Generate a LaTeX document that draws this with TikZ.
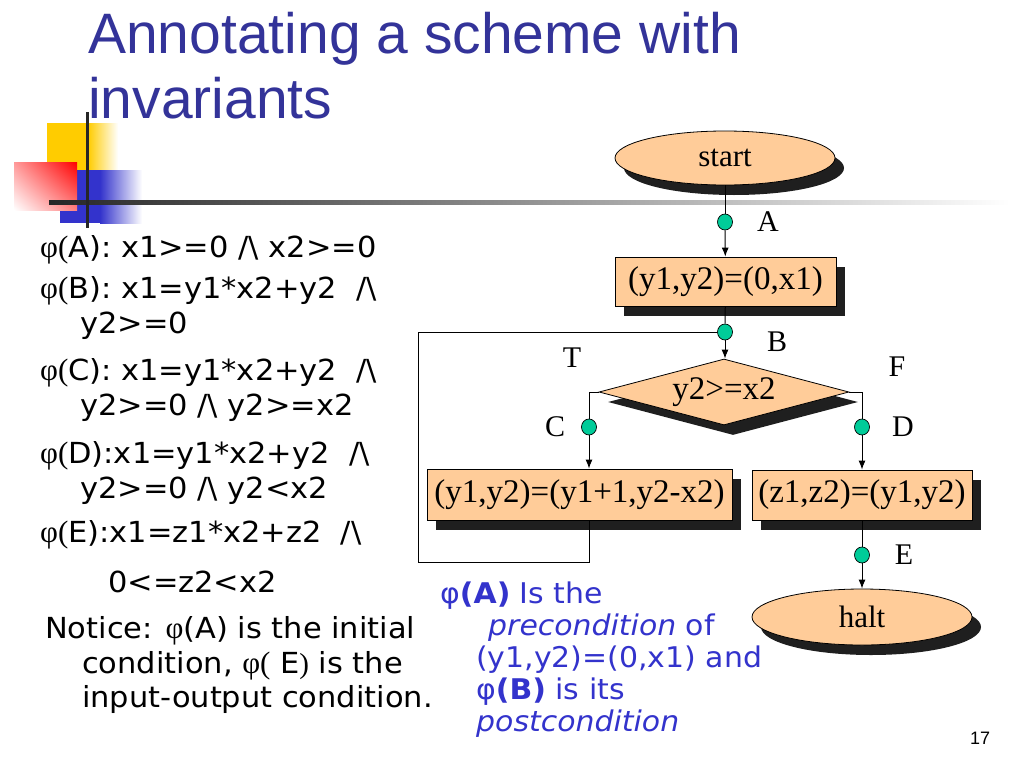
\documentclass[tikz,border=0pt]{standalone}
\usepackage{fontspec}
\setmainfont[FakeStretch=1.05]{DejaVu Sans}
\newfontfamily\titlefont{Liberation Sans}
\newfontfamily\tnr{Liberation Serif}
\usetikzlibrary{arrows.meta,shapes.geometric,shadows,shadings}
\definecolor{titleblue}{RGB}{51,51,153}
\definecolor{textblue}{RGB}{51,51,204}
\definecolor{peach}{RGB}{255,204,153}
\definecolor{mint}{RGB}{0,204,153}
\definecolor{logoyellow}{RGB}{255,204,0}
\definecolor{logoblue}{RGB}{51,51,204}
\newcommand\phic{{\tnr\fontsize{31}{32}\selectfont φ(}}
\newcommand\phis{{\tnr\fontsize{31}{32}\selectfont φ}}
\newcommand\bsl{/\textbackslash}
\tikzset{
  lt/.style={anchor=base west, inner sep=0pt, font=\fontsize{29}{32}\selectfont},
  bt/.style={anchor=base west, inner sep=0pt, text=textblue, font=\fontsize{28.5}{32}\selectfont},
  shad/.style={drop shadow={shadow xshift=9pt, shadow yshift=-10pt, fill=black!88, opacity=1}},
  fbox/.style={rectangle, draw, fill=peach, line width=0.8pt, inner sep=0pt, shad,
    font=\tnr\fontsize{33}{36}\selectfont},
  oval/.style={ellipse, draw, fill=peach, line width=0.8pt, inner sep=0pt, shad,
    minimum width=220pt, minimum height=54pt, font=\tnr\fontsize{31}{34}\selectfont},
  dia/.style={diamond, aspect=3.8, draw, fill=peach, line width=0.8pt, inner sep=0pt, shad,
    minimum width=250pt, minimum height=66pt, font=\tnr\fontsize{33}{36}\selectfont},
  dot/.style={ellipse, draw, fill=mint, line width=0.7pt, inner sep=0pt,
    minimum width=15pt, minimum height=16pt},
  lab/.style={inner sep=0pt, font=\tnr\fontsize{30}{32}\selectfont},
  conn/.style={line width=1pt, draw=black},
  arr/.style={-{Latex[length=9pt,width=7pt]}}
}
\begin{document}
\begin{tikzpicture}[x=1pt,y=-1pt]
\useasboundingbox (0,0) rectangle (1024,768);
\fill[white] (0,0) rectangle (1024,768);
% logo
\fill[logoyellow] (47,123) rectangle (88,172);
\shade[left color=logoyellow, right color=white] (88,123) rectangle (118,172);
\fill[logoblue] (60,170) rectangle (100,223);
\shade[left color=logoblue, right color=white] (100,170) rectangle (142,223);
\shade[upper right=red, upper left=red!40!white, lower right=red!50!white, lower left=white] (14,162) rectangle (77,210);
\shade[left color=black!85, middle color=black!40, right color=white] (49,200) rectangle (1010,204);
\fill[black!85] (85.5,112) rectangle (89,228);
% title
\node[anchor=base west, inner sep=0pt, font=\titlefont\fontsize{57}{60}\selectfont, text=titleblue] (t1) at (88,53) {Annotating a scheme with};
\node[anchor=base west, inner sep=0pt, font=\titlefont\fontsize{57}{60}\selectfont, text=titleblue] (t2) at (88,118) {invariants};
% left text
\node[lt] (l1) at (40,257) {\phic A): x1>=0 \bsl{} x2>=0};
\node[lt] (l2) at (40,298) {\phic B): x1=y1*x2+y2~~\bsl};
\node[lt] (l3) at (80,333) {y2>=0};
\node[lt] (l4) at (40,380) {\phic C): x1=y1*x2+y2~~\bsl};
\node[lt] (l5) at (80,415) {y2>=0 \bsl{} y2>=x2};
\node[lt] (l6) at (40,463) {\phic D):x1=y1*x2+y2~~\bsl};
\node[lt] (l7) at (80,498) {y2>=0 \bsl{} y2<x2};
\node[lt] (l8) at (40,542) {\phic E):x1=z1*x2+z2~~\bsl};
\node[lt] (l9) at (108,592) {0<=z2<x2};
\node[lt] (l10) at (45,638) {Notice: \phis(A) is the initial};
\node[lt] (l11) at (82,673) {condition, \phic{} E{\tnr )} is the};
\node[lt] (l12) at (82,707) {input-output condition.};
% blue text
\node[bt] (m1) at (440,603) {φ\textbf{(A)} Is the};
\node[bt] (m2) at (488,635) {\textit{precondition} of};
\node[bt] (m3) at (476,667) {(y1,y2)=(0,x1) and};
\node[bt] (m4) at (476,699) {φ\textbf{(B)} is its};
\node[bt] (m5) at (476,731) {\textit{postcondition}};
% flowchart
\node[oval] (start) at (725,158) {start};
\node[dot] (cA) at (725,222) {};
\node[fbox, minimum width=221pt, minimum height=49pt] (b1) at (725.5,281.5) {(y1,y2)=(0,x1)};
\node[dot] (cB) at (725,332) {};
\node[dia] (d) at (724,392) {y2>=x2};
\node[dot] (cC) at (589,427) {};
\node[dot] (cD) at (862,427) {};
\node[fbox, minimum width=305pt, minimum height=51pt] (b2) at (579.5,494.5) {(y1,y2)=(y1+1,y2-x2)};
\node[fbox, minimum width=220pt, minimum height=50pt] (b3) at (862,495) {(z1,z2)=(y1,y2)};
\node[dot] (cE) at (862,555) {};
\node[oval, minimum height=56pt] (halt) at (862,617) {halt};
% labels
\node[lab] (lA) at (768,222) {A};
\node[lab] (lB) at (777,342) {B};
\node[lab] (lT) at (572,358) {T};
\node[lab] (lF) at (897,367) {F};
\node[lab] (lC) at (555,427) {C};
\node[lab] (lD) at (903,427) {D};
\node[lab] (lE) at (904,555) {E};
% connectors
\draw[conn] (start) -- (cA);
\draw[conn,arr] (cA) -- (b1);
\draw[conn] (b1) -- (cB);
\draw[conn,arr] (cB) -- (cB |- d.north);
\draw[conn] (d.west) -| (cC);
\draw[conn,arr] (cC) -- (cC |- b2.north);
\draw[conn] (d.east) -| (cD);
\draw[conn,arr] (cD) -- (b3);
\draw[conn] (b3) -- (cE);
\draw[conn,arr] (cE) -- (halt);
\coordinate (lbl) at (418,562);
\draw[conn] (cC |- b2.south) |- (lbl) |- (cB);
% page number
\node[anchor=base, inner sep=0pt, font=\titlefont\fontsize{18}{20}\selectfont] (pg) at (980,744) {17};
\end{tikzpicture}
\end{document}
